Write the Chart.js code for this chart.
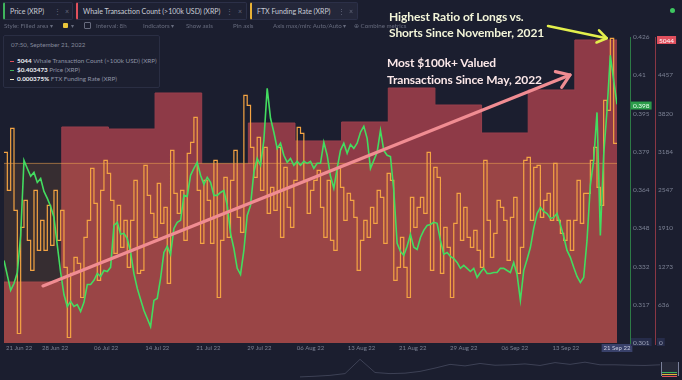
<!DOCTYPE html>
<html><head><meta charset="utf-8">
<script src="https://cdn.jsdelivr.net/npm/chart.js@4.4.0/dist/chart.umd.min.js"></script>
<style>
html,body{margin:0;padding:0;background:#1b1e2f;width:682px;height:380px;overflow:hidden;font-family:Lato,"Open Sans",sans-serif;}
#wrap{position:relative;width:682px;height:380px;}
canvas{position:absolute;left:0;}
.tab{position:absolute;top:2px;height:18px;border:1px solid #2c3048;border-left-width:2px;border-radius:2px;background:#1e2133;color:#c9ccd6;font-size:7px;line-height:16px;padding-left:5px;box-sizing:border-box;white-space:nowrap;}
.tab .ic{position:absolute;top:0;color:#666b7e;font-size:7px;}
.tb{position:absolute;top:22px;color:#676b7e;font-size:6.2px;line-height:8px;white-space:nowrap;}
#tip{position:absolute;left:3px;top:35px;width:157px;height:53px;box-sizing:border-box;border:1px solid #2a2e43;border-radius:2px;background:#1c1f30;}
#tip .t{position:absolute;left:7px;top:5px;font-size:6.2px;color:#858a9c;}
#tip .r{position:absolute;left:6px;font-size:6.3px;color:#8d92a4;white-space:nowrap;}
#tip .r b{color:#eef0f5;font-weight:700;}
#tip .r i{display:inline-block;width:4px;height:1.5px;vertical-align:middle;margin-right:3px;}
.ann{position:absolute;font-weight:700;font-size:12px;line-height:16px;white-space:nowrap;letter-spacing:-0.1px;}
</style></head>
<body><div id="wrap">
<canvas id="main" width="682" height="380" style="top:0"></canvas>
<canvas id="nav" width="682" height="28" style="top:352px"></canvas>

<div class="tab" style="left:3px;width:70px;border-left-color:#3fb45d;">Price (XRP)<span class="ic" style="left:49px">⋮</span><span class="ic" style="left:60px">×</span></div>
<div class="tab" style="left:76px;width:171px;border-left-color:#e0505c;">Whale Transaction Count (&gt;100k USD) (XRP)<span class="ic" style="left:148px">⋮</span><span class="ic" style="left:160px">×</span></div>
<div class="tab" style="left:250px;width:108px;border-left-color:#e9b236;background:#24273a;">FTX Funding Rate (XRP)<span class="ic" style="left:86px">⋮</span><span class="ic" style="left:97px">×</span></div>
<div style="position:absolute;left:670px;top:8px;width:5px;height:5px;border-radius:50%;background:#3ec760;"></div>

<div class="tb" style="left:4px">Style: Filled area ▾</div>
<div style="position:absolute;left:63px;top:23px;width:5px;height:5px;background:#e9c53a;border-radius:1px"></div>
<div class="tb" style="left:71px">▾</div>
<div style="position:absolute;left:84px;top:22px;width:5px;height:5px;border:1px solid #676b7e;border-radius:1px"></div>
<div class="tb" style="left:96px">Interval: 8h</div>
<div class="tb" style="left:143px">Indicators ▾</div>
<div class="tb" style="left:186px">Show axis</div>
<div class="tb" style="left:233px">Pin axis</div>
<div class="tb" style="left:273px">Axis max/min: Auto/Auto ▾</div>
<div class="tb" style="left:354px">⊕ Combine metrics</div>

<div id="tip">
  <div class="t">07:50, September 21, 2022</div>
  <div class="r" style="top:21px"><i style="background:#e0505c"></i><b>5044</b> Whale Transaction Count (&gt;100k USD) (XRP)</div>
  <div class="r" style="top:30px"><i style="background:#3fb45d"></i><b>$0.403473</b> Price (XRP)</div>
  <div class="r" style="top:39px"><i style="background:#e9e3c0"></i><b>0.000375%</b> FTX Funding Rate (XRP)</div>
</div>

<div class="ann" style="left:389px;top:9px;color:#f3f5d9;">Highest Ratio of Longs vs.<br>Shorts Since November, 2021</div>
<div class="ann" style="left:387px;top:54px;line-height:17px;color:#fce8e9;">Most $100k+ Valued<br>Transactions Since May, 2022</div>

<div style="position:absolute;left:661px;top:362px;width:16px;height:14px;border-left:1px solid #7a809a;border-right:1px solid #7a809a;background:rgba(255,255,255,0.05)"></div>
<div style="position:absolute;left:662px;top:372px;width:15px;height:1px;background:#3fb45d"></div>
<div style="position:absolute;left:662px;top:374px;width:15px;height:1px;background:#e9b236"></div>
<div style="position:absolute;left:662px;top:376px;width:15px;height:1px;background:#e0505c"></div>
</div>
<script>
// ---------- data ----------
const seriesStart = '2022-06-21T07:50:00Z';
const seriesEnd   = '2022-09-21T07:50:00Z';
const stepHours = 12; // sampling step of price and funding arrays

const xTickLabels = ['21 Jun 22','28 Jun 22','06 Jul 22','14 Jul 22','21 Jul 22','29 Jul 22','06 Aug 22','13 Aug 22','21 Aug 22','29 Aug 22','06 Sep 22','13 Sep 22','21 Sep 22'];

const priceTickLabels = ['0.301','0.317','0.332','0.348','0.364','0.379','0.395','0.41','0.426'];
const priceMin = 0.301, priceMax = 0.426;
const latestPrice = 0.398;

const whaleTickLabels = ['0','636','1273','1910','2547','3184','3820','4457'];
const whaleMax = 5094;

const whaleWeekStart = ['2022-06-21T07:50:00Z','2022-06-30T00:00:00Z','2022-07-07T00:00:00Z','2022-07-14T00:00:00Z','2022-07-21T00:00:00Z','2022-07-28T00:00:00Z','2022-08-04T00:00:00Z','2022-08-11T00:00:00Z','2022-08-18T00:00:00Z','2022-08-25T00:00:00Z','2022-09-01T00:00:00Z','2022-09-08T00:00:00Z','2022-09-15T00:00:00Z'];
const whaleCount = [1015,3596,3562,4162,2980,3662,3363,3679,4245,3962,3496,4212,5044];

const priceXRP = [
0.3347,0.3286,0.3225,0.3253,0.3298,0.3449,0.3756,0.3723,0.3691,0.3707,
0.3666,0.3682,0.3629,0.3601,0.3568,0.3523,0.3409,0.3298,0.3208,0.3159,
0.3180,0.3159,0.3167,0.3139,0.3176,0.3249,0.3249,0.3266,0.3294,0.3282,
0.3306,0.3302,0.3319,0.3490,0.3503,0.3454,0.3458,0.3437,0.3380,0.3294,
0.3233,0.3188,0.3143,0.3110,0.3077,0.3184,0.3192,0.3274,0.3380,0.3405,
0.3372,0.3478,0.3503,0.3511,0.3613,0.3609,0.3695,0.3723,0.3748,0.3695,
0.3658,0.3687,0.3666,0.3613,0.3613,0.3625,0.3633,0.3572,0.3458,0.3396,
0.3315,0.3290,0.3388,0.3531,0.3572,0.3707,0.3764,0.3736,0.3838,0.4050,
0.3928,0.3871,0.3805,0.3826,0.3777,0.3748,0.3764,0.3736,0.3752,0.3736,
0.3752,0.3744,0.3752,0.3723,0.3744,0.3744,0.3830,0.3777,0.3691,0.3642,
0.3723,0.3797,0.3826,0.3785,0.3821,0.3805,0.3826,0.3871,0.3895,0.3846,
0.3723,0.3756,0.3789,0.3879,0.3797,0.3777,0.3772,0.3633,0.3417,0.3384,
0.3368,0.3405,0.3454,0.3401,0.3392,0.3441,0.3470,0.3490,0.3494,0.3503,
0.3499,0.3429,0.3372,0.3380,0.3364,0.3355,0.3339,0.3315,0.3327,0.3315,
0.3302,0.3315,0.3278,0.3298,0.3315,0.3294,0.3294,0.3298,0.3298,0.3315,
0.3315,0.3306,0.3298,0.3339,0.3290,0.3184,0.3306,0.3351,0.3400,0.3478,
0.3539,0.3564,0.3548,0.3539,0.3519,0.3523,0.3539,0.3494,0.3445,0.3388,
0.3360,0.3319,0.3282,0.3257,0.3278,0.3429,0.3654,0.3756,0.3952,0.3449,
0.3777,0.3960,0.4185,0.4083,0.3985];

const fundingRate = [ // percent
0.000206,-0.000506,0.000656,-0.000881,-0.003188,-0.0012,-0.000694,-0.001444,-0.002006,-0.000506,
-0.001631,-0.001069,-0.001631,-0.000788,-0.001538,-0.000506,-0.001444,-0.000881,-0.00195,-0.003263,
-0.002063,-0.001763,-0.001875,-0.002513,-0.001388,-0.001069,-0.000094,-0.00075,-0.002194,-0.000506,
0.000056,-0.000188,-0.000694,-0.001688,-0.000788,-0.001575,-0.001069,-0.00195,-0.001069,-0.000319,
-0.002063,-0.002006,-0.000038,-0.0006,-0.000938,-0.001388,-0.000375,-0.001125,-0.000825,-0.00225,
0.000244,-0.000563,-0.000938,-0.000506,-0.001444,0.000188,0.000394,0.000863,-0.000506,-0.0015,
-0.000319,-0.000694,-0.0015,0.000056,-0.002513,-0.001444,-0.000263,-0.001388,-0.000319,0.000244,
-0.001013,-0.001294,0.001275,0.001088,0.0003,-0.000263,0.000488,-0.000506,0.0003,-0.000938,
-0.00045,-0.000881,0.0003,-0.001388,-0.000075,-0.000825,-0.0012,-0.000319,0.000675,0.000563,
-0.000319,-0.000938,-0.000506,-0.000319,-0.000131,-0.000825,-0.001388,-0.000319,-0.001444,-0.001631,
-0.000075,-0.00045,-0.001069,-0.000563,-0.000694,-0.001013,-0.002006,-0.001444,-0.001069,-0.001388,
-0.000825,-0.001125,-0.000506,-0.000638,-0.0015,-0.000188,-0.000319,-0.002194,-0.00195,-0.001388,
-0.00195,-0.002513,-0.000638,-0.0012,-0.000825,-0.000638,-0.000938,0.000206,-0.002006,-0.000075,
-0.000263,-0.002063,-0.0012,-0.001575,-0.002513,-0.001125,-0.000563,-0.001444,-0.000825,-0.001388,
-0.001575,-0.001256,-0.001631,-0.00195,0.000056,-0.001069,-0.001763,-0.001313,-0.000694,-0.000825,
-0.001069,-0.001819,-0.001013,-0.000638,-0.002063,-0.001575,0.000056,0.000113,-0.001069,-0.000075,
-0.000038,-0.001013,-0.000694,-0.000563,-0.001069,0,-0.001069,-0.001313,-0.001444,-0.001069,
-0.001631,-0.001069,-0.000319,-0.001125,-0.000563,-0.000563,0.000056,0.0003,-0.00045,-0.000788,
0.001181,0.000994,0.002344,0.000375];
const fundingZero = 0;
const fundingMin = -0.003366, fundingMax = 0.002368;

// annotation arrows in data space: [day, price]
const arrowHighest = {from:[81.65,0.4305], to:[90.45,0.4255], color:'#e3ef4c'};
const arrowWhale   = {from:[5.85,0.3243],  to:[84.95,0.4105], color:'#f08c92'};

// navigator history (relative level)
const navHistory = [0.05,0.08,0.12,0.2,0.85,0.25,0.2,0.22,0.3,0.45,0.62,0.55,0.66,0.58,0.6,0.64,0.57,0.7,0.62,0.72,0.6,0.6,0.58,0.57,0.6];

// ---------- build ----------
const DAY = 86400000;
const t0 = Date.parse(seriesStart);
const totalDays = (Date.parse(seriesEnd) - t0) / DAY;
const dayOf = iso => (Date.parse(iso) - t0) / DAY;
const stepDays = stepHours / 24;

// each value holds from its own timestamp until the next one
const pricePts = priceXRP.map((v,i)=>({x:i*stepDays, y:v}));
const fundPts = fundingRate.map((v,i)=>({x:i*stepDays, y:v}));
fundPts.push({x:totalDays, y:fundingRate[fundingRate.length-1]});
const whalePts = whaleCount.map((v,i)=>({x:dayOf(whaleWeekStart[i]), y:v}));
whalePts.push({x:totalDays, y:whaleCount[whaleCount.length-1]});
const zeroPts = [{x:0,y:fundingZero},{x:totalDays,y:fundingZero}];

function badge(ctx, text, cx, cy, bg, fg, align){
  ctx.font = '6.5px Lato';
  const w = ctx.measureText(text).width + 4, h = 8;
  const left = align==='left' ? cx : cx - w/2;
  ctx.fillStyle = bg; ctx.fillRect(left, cy-h/2, w, h);
  ctx.fillStyle = fg; ctx.textAlign='left'; ctx.textBaseline='middle';
  ctx.fillText(text, left+2, cy+0.5);
}
function arrow(ctx, xs, ys, a, width, head){
  const x1 = xs.getPixelForValue(a.from[0]), y1 = ys.getPixelForValue(a.from[1]);
  const x2 = xs.getPixelForValue(a.to[0]),   y2 = ys.getPixelForValue(a.to[1]);
  const ang = Math.atan2(y2-y1, x2-x1);
  ctx.save();
  ctx.strokeStyle = a.color; ctx.lineWidth = width; ctx.lineCap='round'; ctx.lineJoin='round';
  ctx.beginPath(); ctx.moveTo(x1,y1); ctx.lineTo(x2,y2); ctx.stroke();
  ctx.beginPath();
  ctx.moveTo(x2 - head*Math.cos(ang-0.6), y2 - head*Math.sin(ang-0.6));
  ctx.lineTo(x2,y2);
  ctx.lineTo(x2 - head*Math.cos(ang+0.6), y2 - head*Math.sin(ang+0.6));
  ctx.stroke();
  ctx.restore();
}

const overlay = {
  id:'overlay',
  afterDatasetsDraw(chart){
    const ctx = chart.ctx, xs = chart.scales.x, yp = chart.scales.y;
    arrow(ctx, xs, yp, arrowWhale, 3.2, 15);
    arrow(ctx, xs, yp, arrowHighest, 2.6, 11);
  },
  afterDraw(chart){
    const ctx = chart.ctx, ca = chart.chartArea, xs = chart.scales.x, yp = chart.scales.y, yw = chart.scales.yW;
    ctx.save();
    const gx = Math.round(yp.left + 13) + 0.5, rx = Math.round(yw.left) + 0.5;
    ctx.lineWidth = 1;
    ctx.strokeStyle = '#2d7a46';
    ctx.beginPath(); ctx.moveTo(gx, ca.top); ctx.lineTo(gx, ca.bottom+2); ctx.stroke();
    ctx.strokeStyle = '#8a3744';
    ctx.beginPath(); ctx.moveTo(rx, ca.top); ctx.lineTo(rx, ca.bottom+2); ctx.stroke();
    ctx.font = '6px Lato'; ctx.fillStyle = '#7b8093'; ctx.textBaseline='middle'; ctx.textAlign='left';
    const n = xTickLabels.length;
    for (let i=0;i<n-1;i++){
      const x = xs.getPixelForValue(i*totalDays/(n-1));
      const w = ctx.measureText(xTickLabels[i]).width;
      const left = Math.max(x - w/2, ca.left + 2);
      ctx.fillText(xTickLabels[i], left, ca.bottom + 5);
    }
    const lx = xs.getPixelForValue(totalDays);
    const lw = ctx.measureText(xTickLabels[n-1]).width + 4;
    ctx.fillStyle = '#39416a'; ctx.fillRect(lx - lw/2, ca.bottom+1, lw, 8);
    ctx.fillStyle = '#c8cce0'; ctx.fillText(xTickLabels[n-1], lx - lw/2 + 2, ca.bottom + 5);
    badge(ctx, priceTickLabels[0], yp.left+14, yp.getPixelForValue(priceMin)-1, '#262c4a', '#9ca1b5', 'left');
    badge(ctx, latestPrice.toFixed(3), yp.left+14, yp.getPixelForValue(latestPrice), '#2b9c4a', '#e8ffee', 'left');
    badge(ctx, whaleTickLabels[0], yw.left+2, yw.getPixelForValue(0)-1, '#262c4a', '#9ca1b5', 'left');
    badge(ctx, String(whaleCount[whaleCount.length-1]), yw.left+2, yw.getPixelForValue(whaleCount[whaleCount.length-1]), '#e0505e', '#ffffff', 'left');
    ctx.restore();
  }
};

const tickFont = {family:'Lato', size:6.5};
new Chart(document.getElementById('main'), {
  type:'line',
  data:{datasets:[
    {label:'Price (XRP)', data:pricePts, yAxisID:'y', borderColor:'#43dc60', borderWidth:1.6, pointRadius:0, fill:false, order:1},
    {label:'FTX Funding Rate (XRP)', data:fundPts, yAxisID:'yF', stepped:'before', borderColor:'#f4a443', borderWidth:1.2, pointRadius:0, fill:false, order:2},
    {label:'Funding zero', data:zeroPts, yAxisID:'yF', borderColor:'rgba(240,165,80,0.55)', borderWidth:1, backgroundColor:'rgba(240,150,70,0.13)', fill:'start', pointRadius:0, order:3},
    {label:'Whale Transaction Count (>100k USD) (XRP)', data:whalePts, yAxisID:'yW', stepped:'before', backgroundColor:'#8e3a47', borderColor:'#983f4c', borderWidth:1, fill:'start', pointRadius:0, order:4}
  ]},
  options:{
    responsive:false, animation:false, events:[],
    layout:{padding:{left:4, top:37, right:0, bottom:37}},
    plugins:{legend:{display:false}, tooltip:{enabled:false}},
    scales:{
      x:{type:'linear', min:0, max:totalDays, display:false},
      y:{position:'right', min:priceMin, max:priceMax,
         grid:{display:false, drawTicks:false}, border:{display:false},
         afterBuildTicks:s=>{s.ticks = priceTickLabels.map((_,i)=>({value:priceMin + i*(priceMax-priceMin)/(priceTickLabels.length-1)}));},
         ticks:{callback:(v,i)=>priceTickLabels[i], color:'#7b8093', font:tickFont, padding:16, autoSkip:false},
         afterFit:s=>{s.width=38;}},
      yW:{position:'right', min:0, max:whaleMax,
         grid:{display:false, drawTicks:false}, border:{display:false},
         afterBuildTicks:s=>{s.ticks = whaleTickLabels.map((_,i)=>({value:i*whaleMax/8}));},
         ticks:{callback:(v,i)=>whaleTickLabels[i], color:'#7b8093', font:tickFont, padding:3, autoSkip:false},
         afterFit:s=>{s.width=27;}},
      yF:{display:false, min:fundingMin, max:fundingMax}
    }
  },
  plugins:[overlay]
});

new Chart(document.getElementById('nav'), {
  type:'line',
  data:{labels:navHistory.map((_,i)=>i), datasets:[{data:navHistory, borderColor:'rgba(125,131,158,0.35)', borderWidth:1, pointRadius:0, fill:false}]},
  options:{responsive:false, animation:false, events:[],
    layout:{padding:{left:300, right:22, top:4, bottom:2}},
    plugins:{legend:{display:false}, tooltip:{enabled:false}},
    scales:{x:{display:false}, y:{display:false, min:0, max:1}}}
});
</script>
</body></html>
